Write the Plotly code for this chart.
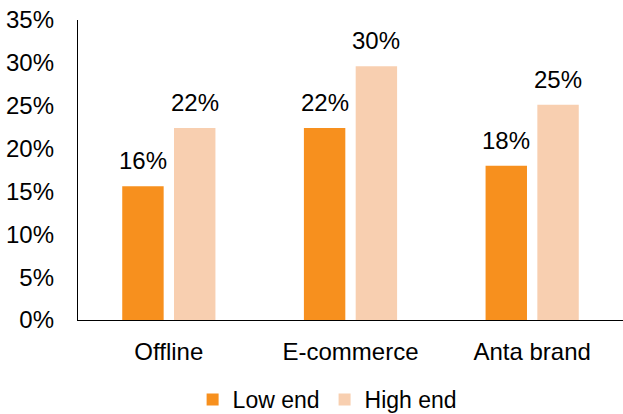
import plotly.graph_objects as go

categories = ["Offline", "E-commerce", "Anta brand"]
low_end = [0.156, 0.224, 0.180]
high_end = [0.224, 0.296, 0.251]
series_names = ["Low end", "High end"]
colors = ["#F7901E", "#F8CFB0"]
y_ticks = [0, 0.05, 0.10, 0.15, 0.20, 0.25, 0.30, 0.35]
y_tick_labels = ["0%", "5%", "10%", "15%", "20%", "25%", "30%", "35%"]

FONT = "Liberation Sans, Arial, sans-serif"
FS = 24
BARGAP = 0.43
GROUPGAP = 0.2

fig = go.Figure()
for name, vals, col in zip(series_names, [low_end, high_end], colors):
    fig.add_trace(go.Bar(
        x=categories, y=vals, name=name,
        marker=dict(color=col, line=dict(width=0)),
    ))

# value labels placed above each bar using the category scale
n = len(series_names)
slot = (1 - BARGAP) / n
for si, vals in enumerate([low_end, high_end]):
    off = -(1 - BARGAP) / 2 + slot * (si + 0.5)
    for ci, v in enumerate(vals):
        fig.add_annotation(
            x=ci + off, y=v, xref="x", yref="y",
            text=f"{round(v * 100)}%", showarrow=False,
            yanchor="bottom", yshift=10,
            font=dict(family=FONT, size=FS, color="#000"),
        )

fig.update_layout(
    width=623, height=414,
    margin=dict(l=78, r=0, t=20, b=94, autoexpand=False),
    paper_bgcolor="white", plot_bgcolor="white",
    barmode="group", bargap=BARGAP, bargroupgap=GROUPGAP,
    font=dict(family=FONT, size=FS, color="#000"),
    showlegend=True,
    legend=dict(
        orientation="h", x=0.458, xanchor="center",
        yref="container", y=0.035, yanchor="middle",
        font=dict(family=FONT, size=23, color="#000"),
        itemwidth=30, traceorder="normal",
    ),
    xaxis=dict(
        showline=True, linecolor="#000", linewidth=1.3,
        showgrid=False, ticks="", ticklabelstandoff=10,
        tickfont=dict(family=FONT, size=FS, color="#000"),
        range=[-0.5, 2.5],
    ),
    yaxis=dict(
        showline=True, linecolor="#000", linewidth=1.3,
        showgrid=False, zeroline=False, ticks="",
        range=[0, 0.35], tickvals=y_ticks, ticktext=y_tick_labels,
        ticklabelstandoff=18,
        tickfont=dict(family=FONT, size=FS, color="#000"),
    ),
)

fig.write_html("out.html")
